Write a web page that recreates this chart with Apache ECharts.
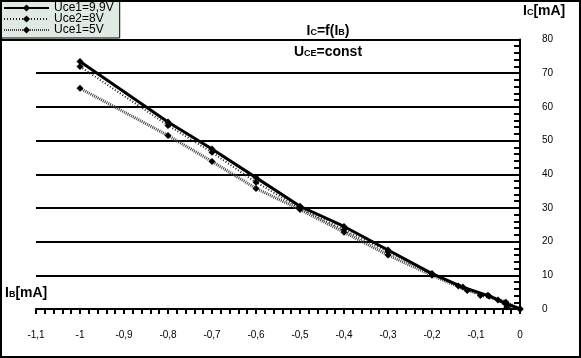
<!DOCTYPE html>
<html>
<head>
<meta charset="utf-8">
<script src="https://cdn.jsdelivr.net/npm/echarts@6/dist/echarts.min.js"></script>
<style>html,body{margin:0;padding:0;background:#fff;}#c{width:581px;height:358px;}</style>
</head>
<body>
<div id="c"></div>
<script>
var seriesNames = ['Uce1=9,9V', 'Uce2=8V', 'Uce1=5V'];
var ib1 = [-1, -0.8, -0.7, -0.6, -0.5, -0.4, -0.3, -0.2, -0.13, -0.07, -0.035, 0];
var ic1 = [73.5, 55.5, 47.5, 39, 30.5, 24.5, 17.5, 10.5, 6.5, 3.8, 1.8, 0];
var ib2 = [-1, -0.8, -0.7, -0.6, -0.5, -0.4, -0.3, -0.2, -0.14, -0.09, -0.05, -0.03, 0];
var ic2 = [72, 54.5, 46.5, 37.6, 30, 23.5, 17, 10.5, 6.8, 4, 2.7, 0.6, 0];
var ib3 = [-1, -0.8, -0.7, -0.6, -0.5, -0.4, -0.3, -0.2, -0.12, -0.073, -0.032, 0];
var ic3 = [65.5, 51.5, 43.8, 35.8, 29.5, 22.8, 16, 10, 5.5, 4.1, 2, 0];
var xTickLabel = function (v) {
  var n = Number(v.toFixed(1));
  if (n === 0) return '0';
  return String(n).replace('.', ',');
};

function pairs(xs, ys) { return xs.map(function (x, i) { return [x, ys[i]]; }); }

var FONT = 'Liberation Sans';
var chart = echarts.init(document.getElementById('c'), null, {renderer: 'canvas'});
var rich = {
  a: {fontFamily: FONT, fontWeight: 'bold', fontSize: 14, color: '#000', lineHeight: 18},
  s: {fontFamily: FONT, fontWeight: 'bold', fontSize: 9, color: '#000', lineHeight: 18, padding: [4, 0, 0, 0]}
};
chart.setOption({
  animation: false,
  backgroundColor: '#fff',
  title: [
    {text: '{a|I}{s|C}{a|=f(I}{s|B}{a|)}', left: 323, top: 17, textAlign: 'center',
     textStyle: {rich: rich}},
    {text: '{a|U}{s|CE}{a|=const}', left: 323, top: 38, textAlign: 'center',
     textStyle: {rich: rich}}
  ],
  legend: {
    left: 0, top: 0, orient: 'vertical',
    backgroundColor: '#dfeae3', borderColor: '#000', borderWidth: 1,
    padding: [2, 6, 2, 3], itemGap: -1, itemWidth: 45, itemHeight: 9,
    textStyle: {fontFamily: FONT, fontSize: 12, color: '#000'},
    data: seriesNames
  },
  grid: {left: 36, right: 61, top: 39.5, bottom: 49, containLabel: false},
  xAxis: {
    type: 'value', min: -1.1, max: 0, interval: 0.1,
    axisLine: {show: true, onZero: false, lineStyle: {color: '#000', width: 2}},
    axisTick: {show: true, inside: false, length: 5, lineStyle: {color: '#000', width: 2}},
    minorTick: {show: true, splitNumber: 5, length: 5, lineStyle: {color: '#000', width: 2}},
    splitLine: {show: false},
    axisLabel: {margin: 21, fontFamily: FONT, fontSize: 10, color: '#000', formatter: xTickLabel}
  },
  yAxis: {
    type: 'value', position: 'right', min: 0, max: 80, interval: 10,
    axisLine: {show: true, lineStyle: {color: '#000', width: 2}},
    axisTick: {show: true, inside: true, length: 6, lineStyle: {color: '#000', width: 2}},
    minorTick: {show: true, splitNumber: 5, length: 6, lineStyle: {color: '#000', width: 2}},
    splitLine: {show: true, lineStyle: {color: '#000', width: 2}},
    axisLabel: {margin: 22, fontFamily: FONT, fontSize: 10, color: '#000'}
  },
  series: [
    {name: seriesNames[0], type: 'line', data: pairs(ib1, ic1), symbol: 'diamond', symbolSize: 7,
     itemStyle: {color: '#000'}, lineStyle: {color: '#000', width: 3}, z: 5},
    {name: seriesNames[1], type: 'line', data: pairs(ib2, ic2), symbol: 'diamond', symbolSize: 7,
     itemStyle: {color: '#000'}, lineStyle: {color: '#222', width: 2, type: [1, 2]}, z: 4},
    {name: seriesNames[2], type: 'line', data: pairs(ib3, ic3), symbol: 'diamond', symbolSize: 7,
     itemStyle: {color: '#000'}, lineStyle: {color: '#444', width: 3, type: [1, 1]}, z: 3}
  ],
  graphic: [
    {type: 'rect', shape: {x: 1, y: 1, width: 579, height: 356}, style: {fill: 'none', stroke: '#000', lineWidth: 2}, silent: true, z: 100},
    {type: 'line', shape: {x1: 0, y1: 40, x2: 36, y2: 40}, style: {stroke: '#000', lineWidth: 2}, silent: true},
    {type: 'text', left: 523, top: 4, style: {text: '{a|I}{s|C}{a|[mA]}', rich: rich}},
    {type: 'text', left: 5, top: 286, style: {text: '{a|I}{s|B}{a|[mA]}', rich: rich}}
  ]
});
</script>
</body>
</html>
